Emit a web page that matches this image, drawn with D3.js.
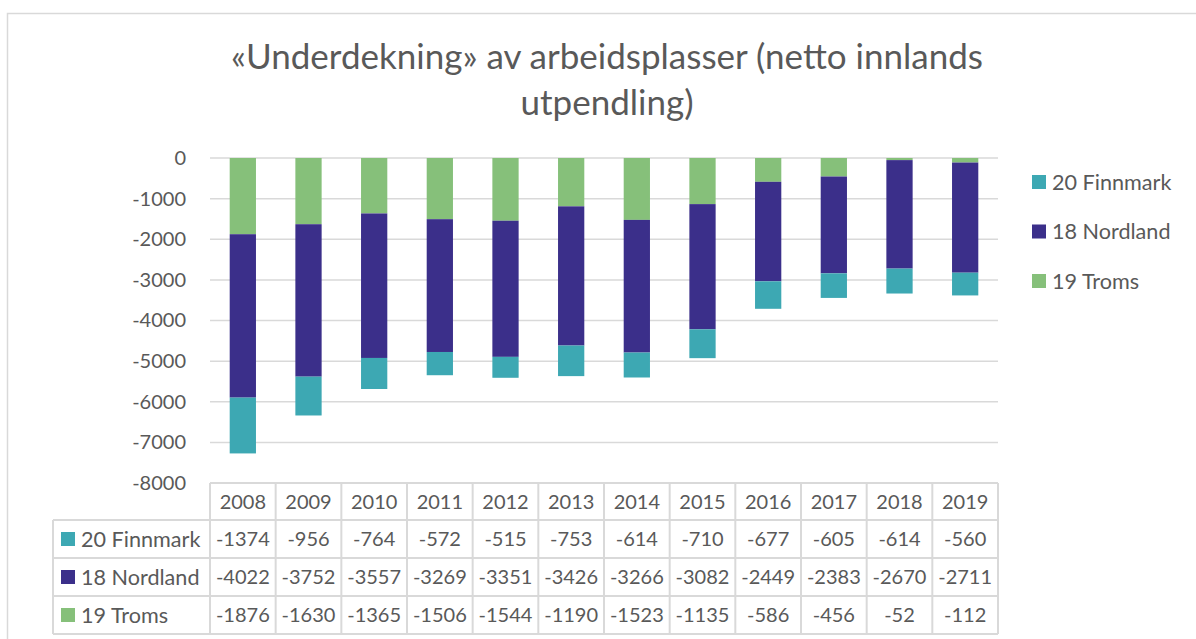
<!DOCTYPE html>
<html><head><meta charset="utf-8">
<script src="https://cdn.jsdelivr.net/npm/d3@7"></script>
<style>
html,body{margin:0;padding:0;background:#fff;}
svg{display:block;font-family:Lato,"Open Sans",sans-serif;}
</style></head><body>
<svg id="c" width="1196" height="639"></svg>
<script>
const years = ["2008","2009","2010","2011","2012","2013","2014","2015","2016","2017","2018","2019"];
const finnmark = [-1374,-956,-764,-572,-515,-753,-614,-710,-677,-605,-614,-560];
const nordland = [-4022,-3752,-3557,-3269,-3351,-3426,-3266,-3082,-2449,-2383,-2670,-2711];
const troms = [-1876,-1630,-1365,-1506,-1544,-1190,-1523,-1135,-586,-456,-52,-112];
const seriesNames = ["20 Finnmark","18 Nordland","19 Troms"];
const seriesColors = ["#3DA8B3","#3B2F8A","#86C07A"];
const yTicks = [0,-1000,-2000,-3000,-4000,-5000,-6000,-7000,-8000];

const svg = d3.select("#c");
const textCol = "#595959", gridCol = "#d9d9d9";

// outer chart border
svg.append("rect").attr("x",7.5).attr("y",13.5).attr("width",1250).attr("height",700)
  .attr("fill","none").attr("stroke",gridCol).attr("stroke-width",1.5);

// title
const title = svg.append("text").attr("text-anchor","middle").attr("fill",textCol)
  .attr("font-size",35);
title.append("tspan").attr("x",607).attr("y",69).text("«Underdekning» av arbeidsplasser (netto innlands");
title.append("tspan").attr("x",607).attr("y",115).text("utpendling)");

const x = d3.scaleBand().domain(years).range([210,998]).paddingInner(0.6).paddingOuter(0.3);
const y = d3.scaleLinear().domain([-8000,0]).range([483,158]);

// grid
svg.append("g").selectAll("line").data(yTicks).join("line")
  .attr("x1",210).attr("x2",998).attr("y1",d=>y(d)).attr("y2",d=>y(d))
  .attr("stroke",gridCol).attr("stroke-width",1.5);

// y axis labels
const yAxis = d3.axisLeft(y).tickValues(yTicks).tickSize(0).tickPadding(0).tickFormat(d=>String(d));
const ga = svg.append("g").attr("transform","translate(186,0)").call(yAxis);
ga.select(".domain").remove();
ga.selectAll("text").attr("fill",textCol).attr("font-size",20).attr("font-family","Lato,'Open Sans',sans-serif");

// stacked bars (Troms nearest zero, then Nordland, then Finnmark)
const order = [
  {name:"19 Troms", vals:troms, color:seriesColors[2]},
  {name:"18 Nordland", vals:nordland, color:seriesColors[1]},
  {name:"20 Finnmark", vals:finnmark, color:seriesColors[0]}
];
const rows = years.map((yr,i)=>{
  let acc = 0; const segs=[];
  order.forEach(s=>{ const v=s.vals[i]; segs.push({yr, top:acc, bottom:acc+v, color:s.color}); acc+=v; });
  return segs;
}).flat();
svg.append("g").selectAll("rect").data(rows).join("rect")
  .attr("x",d=>x(d.yr)).attr("width",x.bandwidth())
  .attr("y",d=>y(d.top)).attr("height",d=>y(d.bottom)-y(d.top))
  .attr("fill",d=>d.color);

// legend right
const legendData = [
  {name:seriesNames[0], color:seriesColors[0]},
  {name:seriesNames[1], color:seriesColors[1]},
  {name:seriesNames[2], color:seriesColors[2]}
];
const lg = svg.append("g");
legendData.forEach((d,i)=>{
  const cy = 182 + i*49.5;
  lg.append("rect").attr("x",1032).attr("y",cy-7).attr("width",14).attr("height",14).attr("fill",d.color);
  lg.append("text").attr("x",1052).attr("y",cy+7.5).attr("font-size",21.6).attr("fill",textCol).text(d.name);
});

// data table
const tbl = svg.append("g");
const rowTops = [483,520,558,596,634];
const step = x.step();
const colEdges = years.map((yr,i)=>210+i*step).concat([998]);
const lineAttrs = sel=>sel.attr("stroke",gridCol).attr("stroke-width",2);
tbl.append("line").attr("x1",210).attr("x2",998).attr("y1",rowTops[0]).attr("y2",rowTops[0]).call(lineAttrs);
rowTops.slice(1).forEach(ry=>{
  tbl.append("line").attr("x1",53).attr("x2",998).attr("y1",ry).attr("y2",ry).call(lineAttrs);
});
colEdges.forEach(cx=>{
  tbl.append("line").attr("x1",cx).attr("x2",cx).attr("y1",rowTops[0]).attr("y2",rowTops[4]).call(lineAttrs);
});
tbl.append("line").attr("x1",53).attr("x2",53).attr("y1",rowTops[1]).attr("y2",rowTops[4]).call(lineAttrs);
years.forEach(yr=>{
  tbl.append("text").attr("x",x(yr)+x.bandwidth()/2).attr("y",(rowTops[0]+rowTops[1])/2+7)
    .attr("text-anchor","middle").attr("font-size",20).attr("fill",textCol).text(yr);
});
const tableRows = [
  {name:seriesNames[0], color:seriesColors[0], vals:finnmark},
  {name:seriesNames[1], color:seriesColors[1], vals:nordland},
  {name:seriesNames[2], color:seriesColors[2], vals:troms}
];
tableRows.forEach((r,ri)=>{
  const cy = (rowTops[ri+1]+rowTops[ri+2])/2;
  tbl.append("rect").attr("x",61).attr("y",cy-7).attr("width",14).attr("height",14).attr("fill",r.color);
  tbl.append("text").attr("x",81).attr("y",cy+7.5).attr("font-size",21.6).attr("fill",textCol).text(r.name);
  r.vals.forEach((v,i)=>{
    tbl.append("text").attr("x",x(years[i])+x.bandwidth()/2).attr("y",cy+7)
      .attr("text-anchor","middle").attr("font-size",20).attr("fill",textCol).text(String(v));
  });
});
</script>
</body></html>
